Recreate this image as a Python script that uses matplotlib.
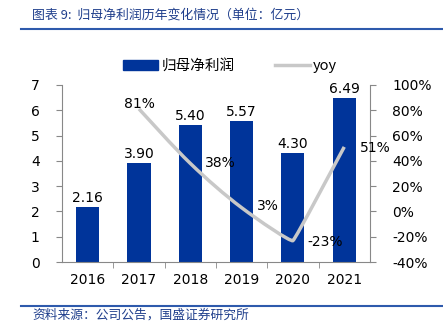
import matplotlib
matplotlib.use('Agg')
import matplotlib.pyplot as plt
from matplotlib.lines import Line2D
from matplotlib.patches import Patch, PathPatch
from matplotlib.path import Path

plt.rcParams['font.family'] = ['DejaVu Sans', 'Noto Sans CJK SC']

years = ['2016', '2017', '2018', '2019', '2020', '2021']
profit = [2.16, 3.90, 5.40, 5.57, 4.30, 6.49]
yoy_years = ['2017', '2018', '2019', '2020', '2021']
yoy = [81, 38, 3, -23, 51]

BAR = '#00349A'
LINE = '#C8C8C8'
TITLE = '#1F3E8C'
CJK = ['Noto Sans CJK SC', 'DejaVu Sans']
FS = 10


def smooth_path(xs, ys):
    # Catmull-Rom style smoothing, with short handles at sharp turns (like Excel)
    pts = list(zip(xs, ys))
    n = len(pts)
    tang = []
    for i in range(n):
        p0 = pts[max(i - 1, 0)]
        p2 = pts[min(i + 1, n - 1)]
        t = ((p2[0] - p0[0]) / 6, (p2[1] - p0[1]) / 6)
        if 0 < i < n - 1 and (pts[i][1] - p0[1]) * (p2[1] - pts[i][1]) < 0:
            t = (t[0] * 0.15, t[1] * 0.15)
        tang.append(t)
    verts = [pts[0]]
    codes = [Path.MOVETO]
    for i in range(n - 1):
        p1, p2 = pts[i], pts[i + 1]
        c1 = (p1[0] + tang[i][0], p1[1] + tang[i][1])
        c2 = (p2[0] - tang[i + 1][0], p2[1] - tang[i + 1][1])
        verts += [c1, c2, p2]
        codes += [Path.CURVE4] * 3
    return Path(verts, codes)


fig = plt.figure(figsize=(4.43, 3.24), dpi=100)
ax = fig.add_axes([0.14, 0.191, 0.695, 0.547])
ax2 = ax.twinx()

x = list(range(len(years)))
ax.bar(x, profit, width=0.45, color=BAR, zorder=2)
for xi, v in zip(x, profit):
    ax.text(xi, v + 0.08, f'{v:.2f}', ha='center', va='bottom', fontsize=FS)

ax.set_ylim(0, 7)
ax.set_xlim(-0.5, len(years) - 0.5)
ax.set_yticks(range(0, 8))
ax.set_xticks(x)
ax.set_xticklabels(years)
ax.set_xticks([i + 0.5 for i in x[:-1]], minor=True)
ax.tick_params(axis='x', which='major', length=0, pad=8, labelsize=FS)
ax.tick_params(axis='x', which='minor', length=4, color='#888888')
ax.tick_params(axis='y', length=4, color='#888888', labelsize=FS, pad=12)
for s in ['top', 'right']:
    ax.spines[s].set_visible(False)
ax.spines['left'].set_color('#888888')
ax.spines['bottom'].set_color('#888888')

yx = [years.index(y) for y in yoy_years]
ax2.add_patch(PathPatch(smooth_path(yx, yoy), facecolor='none',
                        edgecolor=LINE, linewidth=2.5, zorder=3))
ax2.set_ylim(-40, 100)
ax2.set_yticks(range(-40, 101, 20))
ax2.set_yticklabels([f'{t}%' for t in range(-40, 101, 20)])
ax2.tick_params(axis='y', length=4, color='#888888', labelsize=FS, pad=12)
for s in ['top', 'left', 'bottom']:
    ax2.spines[s].set_visible(False)
ax2.spines['right'].set_color('#888888')

offsets = {81: (0, 4, 'center'), 38: (0.28, 0, 'left'), 3: (0.3, 1, 'left'),
           -23: (0.28, -1, 'left'), 51: (0.3, -1, 'left')}
for xi, v in zip(yx, yoy):
    dx, dy, ha = offsets[v]
    ax2.text(xi + dx, v + dy, f'{v}%', ha=ha, va='center', fontsize=FS, zorder=4)

handles = [Patch(color=BAR), Line2D([0], [0], color=LINE, linewidth=2.5)]
fig.legend(handles, ['归母净利润', 'yoy'], loc='center', bbox_to_anchor=(0.52, 0.797),
           ncol=2, frameon=False, handlelength=2.4, handletextpad=0.2,
           columnspacing=2.8, prop={'family': CJK, 'size': 10.5})

fig.text(0.072, 0.954, '图表 9:  归母净利润历年变化情况（单位：亿元）', color=TITLE,
         fontsize=9.3, style='italic', va='center', ha='left', family=CJK)
fig.add_artist(Line2D([0.047, 1.0], [0.911, 0.911], color='#2E5AAC', linewidth=1.5))
fig.add_artist(Line2D([0.047, 1.0], [0.056, 0.056], color='#2E5AAC', linewidth=1.5))
fig.text(0.072, 0.028, '资料来源：公司公告，国盛证券研究所', color=TITLE,
         fontsize=9.2, style='italic', va='center', ha='left', family=CJK)

fig.savefig('out.png', dpi=100)
